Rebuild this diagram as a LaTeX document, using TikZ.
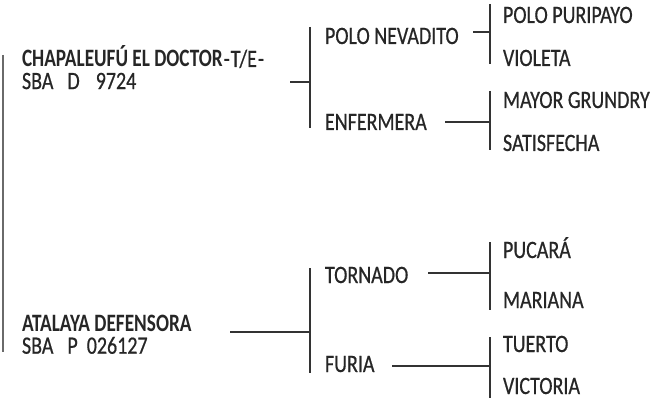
\documentclass[tikz,border=0pt]{standalone}
\usepackage{fontspec}
\setmainfont{Carlito}[FakeStretch=0.8, UprightFeatures={FakeBold=0.6}, BoldFeatures={FakeStretch=0.77}]
\definecolor{txt}{HTML}{262626}
\definecolor{ln}{HTML}{333333}
\definecolor{lnl}{HTML}{6a6a6a}
\newcommand{\twolines}[2]{\begin{tabular}[t]{@{}l@{}}#1\\#2\end{tabular}}
\begin{document}
\begin{tikzpicture}[x=1pt,y=-1pt,
  lbl/.style={anchor=base west, inner sep=0pt, outer sep=0pt, text=txt, font=\fontsize{25}{19.5}\selectfont},
  conn/.style={draw=ln, line width=1.2pt},
  connl/.style={draw=lnl, line width=1.4pt}]
\useasboundingbox (0,0) rectangle (655,398);
% labels
\node[lbl] (chap) at (22,67) {\twolines{\textbf{CHAPALEUFÚ EL DOCTOR}\hspace{1pt}-\hspace{1pt}T/E\hspace{1pt}-}{SBA\hspace{14pt}D\hspace{16pt}9724}};
\node[lbl] (nev) at (325,44) {POLO NEVADITO};
\node[lbl] (enf) at (325,130) {ENFERMERA};
\node[lbl] (pur) at (503,23) {POLO PURIPAYO};
\node[lbl] (vio) at (503,66) {VIOLETA};
\node[lbl] (may) at (503,108) {MAYOR GRUNDRY};
\node[lbl] (sat) at (503,151) {SATISFECHA};
\node[lbl] (ata) at (22,331) {\twolines{\textbf{ATALAYA DEFENSORA}}{SBA\hspace{14pt}P\hspace{9pt}026127}};
\node[lbl] (tor) at (325,283) {TORNADO};
\node[lbl] (fur) at (325,372) {FURIA};
\node[lbl] (puc) at (503,258) {PUCARÁ};
\node[lbl] (mar) at (503,308) {MARIANA};
\node[lbl] (tue) at (503,352) {TUERTO};
\node[lbl] (vic) at (503,394) {VICTORIA};
% coordinates
\coordinate (L1) at (3,55);   \coordinate (L2) at (3,352);
\coordinate (s1) at (290,82); \coordinate (b1) at (310,82);
\coordinate (b1t) at (310,27); \coordinate (b1b) at (310,128);
\coordinate (s2) at (473,32); \coordinate (b2) at (490,32);
\coordinate (b2t) at (490,4); \coordinate (b2b) at (490,64);
\coordinate (s3) at (445,122); \coordinate (b3) at (490,122);
\coordinate (b3t) at (490,91); \coordinate (b3b) at (490,150);
\coordinate (s4) at (230,332); \coordinate (b4) at (310,332);
\coordinate (b4t) at (310,268); \coordinate (b4b) at (310,373);
\coordinate (s5) at (428,273); \coordinate (b5) at (490,273);
\coordinate (b5t) at (490,242); \coordinate (b5b) at (490,310);
\coordinate (s6) at (392,366); \coordinate (b6) at (490,366);
\coordinate (b6t) at (490,337); \coordinate (b6b) at (490,398);
% connectors
\draw[connl] (L1) -- (L2);
\draw[conn] (s1) -- (b1); \draw[conn] (b1t) -- (b1b);
\draw[conn] (s2) -- (b2); \draw[conn] (b2t) -- (b2b);
\draw[conn] (s3) -- (b3); \draw[conn] (b3t) -- (b3b);
\draw[conn] (s4) -- (b4); \draw[conn] (b4t) -- (b4b);
\draw[conn] (s5) -- (b5); \draw[conn] (b5t) -- (b5b);
\draw[conn] (s6) -- (b6); \draw[conn] (b6t) -- (b6b);
\end{tikzpicture}
\end{document}
